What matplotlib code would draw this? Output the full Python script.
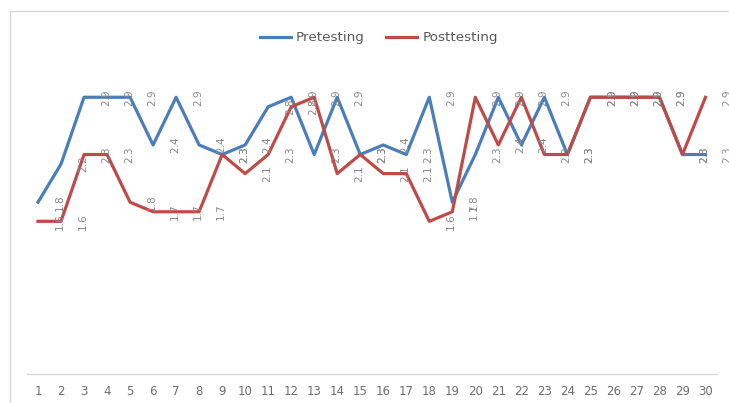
import matplotlib
matplotlib.use("Agg")
import matplotlib.pyplot as plt
from matplotlib.lines import Line2D

plt.rcParams['font.family'] = ['Liberation Sans Narrow', 'DejaVu Sans']

categories = [str(i) for i in range(1, 31)]
pretesting = [1.8, 2.2, 2.9, 2.9, 2.9, 2.4, 2.9, 2.4, 2.3, 2.4,
              2.8, 2.9, 2.3, 2.9, 2.3, 2.4, 2.3, 2.9, 1.8, 2.3,
              2.9, 2.4, 2.9, 2.3, 2.9, 2.9, 2.9, 2.9, 2.3, 2.3]
posttesting = [1.6, 1.6, 2.3, 2.3, 1.8, 1.7, 1.7, 1.7, 2.3, 2.1,
               2.3, 2.8, 2.9, 2.1, 2.3, 2.1, 2.1, 1.6, 1.7, 2.9,
               2.4, 2.9, 2.3, 2.3, 2.9, 2.9, 2.9, 2.9, 2.3, 2.9]
series_names = ["Pretesting", "Posttesting"]

BLUE = "#4A7EBB"
RED = "#BE4B48"
TXT = "#8a8a8a"

fig = plt.figure(figsize=(7.29, 4.03), dpi=100)
ax = fig.add_axes([26.5 / 729, 1 - 374 / 403, (717 - 26.5) / 729, (374 - 40) / 403])

x = list(range(len(categories)))
ax.plot(x, pretesting, color=BLUE, lw=2.3, solid_joinstyle="round", zorder=3)
ax.plot(x, posttesting, color=RED, lw=2.3, solid_joinstyle="round", zorder=4)

ax.set_xlim(-0.5, len(categories) - 0.5)
ax.set_ylim(0, 3.5)

# data labels (shifted one category right, rotated)
for i in range(len(categories)):
    for vals in (pretesting, posttesting):
        ax.text(i + 0.95, vals[i], f"{vals[i]:g}", rotation=90, ha="center", va="center",
                fontsize=7.5, color=TXT, clip_on=False, zorder=5)

for s in ["left", "right", "top"]:
    ax.spines[s].set_visible(False)
ax.spines["bottom"].set_color("#d9d9d9")
ax.spines["bottom"].set_linewidth(1.0)
ax.set_yticks([])
ax.set_xticks(x)
ax.set_xticklabels(categories, fontsize=8.5, color="#6e6e6e")
ax.tick_params(axis="x", length=0, pad=8)

# chart border (left/top visible)
fig.add_artist(Line2D([9.5 / 729, 9.5 / 729], [0, 1 - 10.5 / 403], color="#d9d9d9", lw=1.0))
fig.add_artist(Line2D([9.5 / 729, 1], [1 - 10.5 / 403, 1 - 10.5 / 403], color="#d9d9d9", lw=1.0))

handles = [Line2D([], [], color=BLUE, lw=2.3), Line2D([], [], color=RED, lw=2.3)]
leg = fig.legend(handles, series_names, loc="center", bbox_to_anchor=(379 / 729, 1 - 38 / 403),
                 ncol=2, frameon=False, fontsize=9.7, handlelength=2.3, handletextpad=0.4,
                 columnspacing=1.6)
for t in leg.get_texts():
    t.set_color("#595959")

fig.savefig("out.png", dpi=100)
